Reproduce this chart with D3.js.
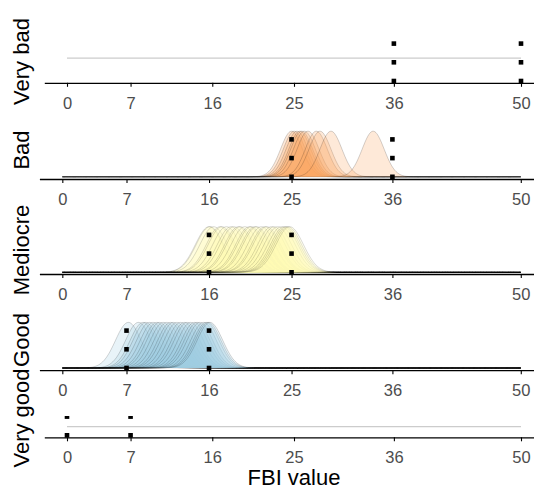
<!DOCTYPE html>
<html>
<head>
<meta charset="utf-8">
<script src="https://cdn.jsdelivr.net/npm/d3@7"></script>
<style>
  html, body { margin: 0; padding: 0; background: #fff; }
  svg { display: block; font-family: "Liberation Sans", Arial, sans-serif; }
</style>
</head>
<body>
<div id="chart"></div>
<script>
// ---------------- data ----------------
const categories = ["Very bad", "Bad", "Mediocre", "Good", "Very good"];
const tickValues = [0, 7, 16, 25, 36, 50];
const xTitle = "FBI value";

// class boundaries (FBI value) per category
const boundsVeryBad = [36, 50];
const boundsBad = [25, 36];
const boundsMediocre = [16, 25];
const boundsGood = [7, 16];
const boundsVeryGood = [0, 7];

// centres of the individual membership curves
const meansBad = [25.0, 25.3, 25.6, 25.9, 26.1, 26.4, 26.8, 27.7, 28.1, 29.3, 33.9];
const meansMediocre = [16.0, 16.1, 16.5, 17.2, 17.4, 17.9, 18.4, 18.7, 19.2, 19.4, 19.9, 20.4,
                       20.6, 21.0, 21.2, 21.7, 22.1, 22.3, 22.8, 23.1, 23.5, 23.9, 24.2, 24.4, 24.6, 24.8];
const meansGood = [7.2, 8.3, 8.8, 9.1, 9.5, 9.9, 10.3, 10.6, 11.0, 11.4, 11.8, 12.1, 12.5,
                   12.9, 13.3, 13.6, 14.0, 14.4, 14.7, 15.0, 15.4, 15.7, 15.9, 16.1];
const meansVeryBad = [];
const meansVeryGood = [];

// flat reference levels in the empty panels
const flatVeryBad = 0.61;
const flatVeryGood = 0.23;

// boundary marker levels
const pointLevels = [0, 0.5, 1];
const peakLevel = 1.22;

// ---------------- layout / style ----------------
const W = 534, H = 491;
const panels = [
  { name: "Very bad", means: meansVeryBad, bounds: boundsVeryBad, flat: flatVeryBad, sd: 1,
    left: 44.3, base: 81, axisY: 82.8, top: 20, labelY: 61.5, fill: "#cccccc", so: 0.32 },
  { name: "Bad", means: meansBad, bounds: boundsBad, flat: null, sd: 1.2,
    left: 39.4, base: 176.8, axisY: 179, top: 118, labelY: 150, fill: "#fba35c", so: 0.32 },
  { name: "Mediocre", means: meansMediocre, bounds: boundsMediocre, flat: null, sd: 1.5,
    left: 39.4, base: 272.3, axisY: 274, top: 214, labelY: 250, fill: "#fefab4", so: 0.26 },
  { name: "Good", means: meansGood, bounds: boundsGood, flat: null, sd: 1.4,
    left: 39.4, base: 368, axisY: 370.2, top: 310, labelY: 340, fill: "#9dcde2", so: 0.3 },
  { name: "Very good", means: meansVeryGood, bounds: boundsVeryGood, flat: flatVeryGood, sd: 1,
    left: 44.3, base: 435.3, axisY: 437.3, top: 416, labelY: 418, fill: "#cccccc", so: 0.32 }
];
const unitPx = 37.4;
const rightEdge = 543.7;

const svg = d3.select("#chart").append("svg")
  .attr("width", W).attr("height", H);

const defs = svg.append("defs");

panels.forEach((p, i) => {
  const x = d3.scaleLinear().domain([-2.5, 52.5]).range([p.left, rightEdge]);
  const y = d3.scaleLinear().domain([0, 1]).range([p.base, p.base - unitPx]);

  const clipId = "clip" + i;
  defs.append("clipPath").attr("id", clipId).append("rect")
    .attr("x", p.left).attr("y", p.top)
    .attr("width", rightEdge - p.left).attr("height", p.axisY - p.top + 2);

  const g = svg.append("g").attr("clip-path", `url(#${clipId})`);

  // flat line
  if (p.flat !== null) {
    g.append("line")
      .attr("x1", x(0)).attr("x2", x(50))
      .attr("y1", y(p.flat)).attr("y2", y(p.flat))
      .attr("stroke", "#cccccc").attr("stroke-width", 1.2);
  }

  // curves
  const xs = d3.range(0, 50.0001, 0.1);
  const area = d3.area()
    .x(d => x(d[0]))
    .y0(y(0))
    .y1(d => y(d[1]))
    .curve(d3.curveLinear);
  const line = d3.line().x(d => x(d[0])).y(d => y(d[1]));
  p.means.forEach(m => {
    const pts = xs.map(v => [v, peakLevel * Math.exp(-0.5 * Math.pow((v - m) / p.sd, 2))]);
    g.append("path").datum(pts).attr("d", area)
      .attr("fill", p.fill).attr("fill-opacity", 0.24).attr("stroke", "none");
    g.append("path").datum(pts).attr("d", line)
      .attr("fill", "none").attr("stroke", "#000").attr("stroke-opacity", p.so)
      .attr("stroke-width", 0.55);
  });

  // boundary points
  const pts = [];
  p.bounds.forEach(b => pointLevels.forEach(l => pts.push([b, l])));
  g.selectAll("rect.pt").data(pts).enter().append("rect")
    .attr("class", "pt")
    .attr("x", d => x(d[0]) - 2.3).attr("y", d => y(d[1]) - 2.3)
    .attr("width", 4.6).attr("height", 4.6).attr("fill", "#000");

  // x axis
  const axis = d3.axisBottom(x).tickValues(tickValues).tickSize(4).tickSizeOuter(0).tickPadding(10);
  const ag = svg.append("g").attr("transform", `translate(0,${p.axisY})`).call(axis);
  ag.select(".domain").attr("stroke", "#000").attr("stroke-width", 1.3);
  ag.selectAll(".tick line").attr("stroke", "#000").attr("stroke-width", 1.1);
  ag.selectAll(".tick text").attr("fill", "#4d4d4d")
    .style("font-size", "16.5px").style("font-family", "'Liberation Sans', Arial, sans-serif");

  // y label
  svg.append("text")
    .attr("transform", `translate(28.5,${p.labelY}) rotate(-90)`)
    .attr("text-anchor", "middle")
    .style("font-size", "22px").attr("fill", "#000")
    .text(p.name);
});

svg.append("text")
  .attr("x", 294).attr("y", 485)
  .attr("text-anchor", "middle")
  .style("font-size", "22px").attr("fill", "#000")
  .text(xTitle);
</script>
</body>
</html>
